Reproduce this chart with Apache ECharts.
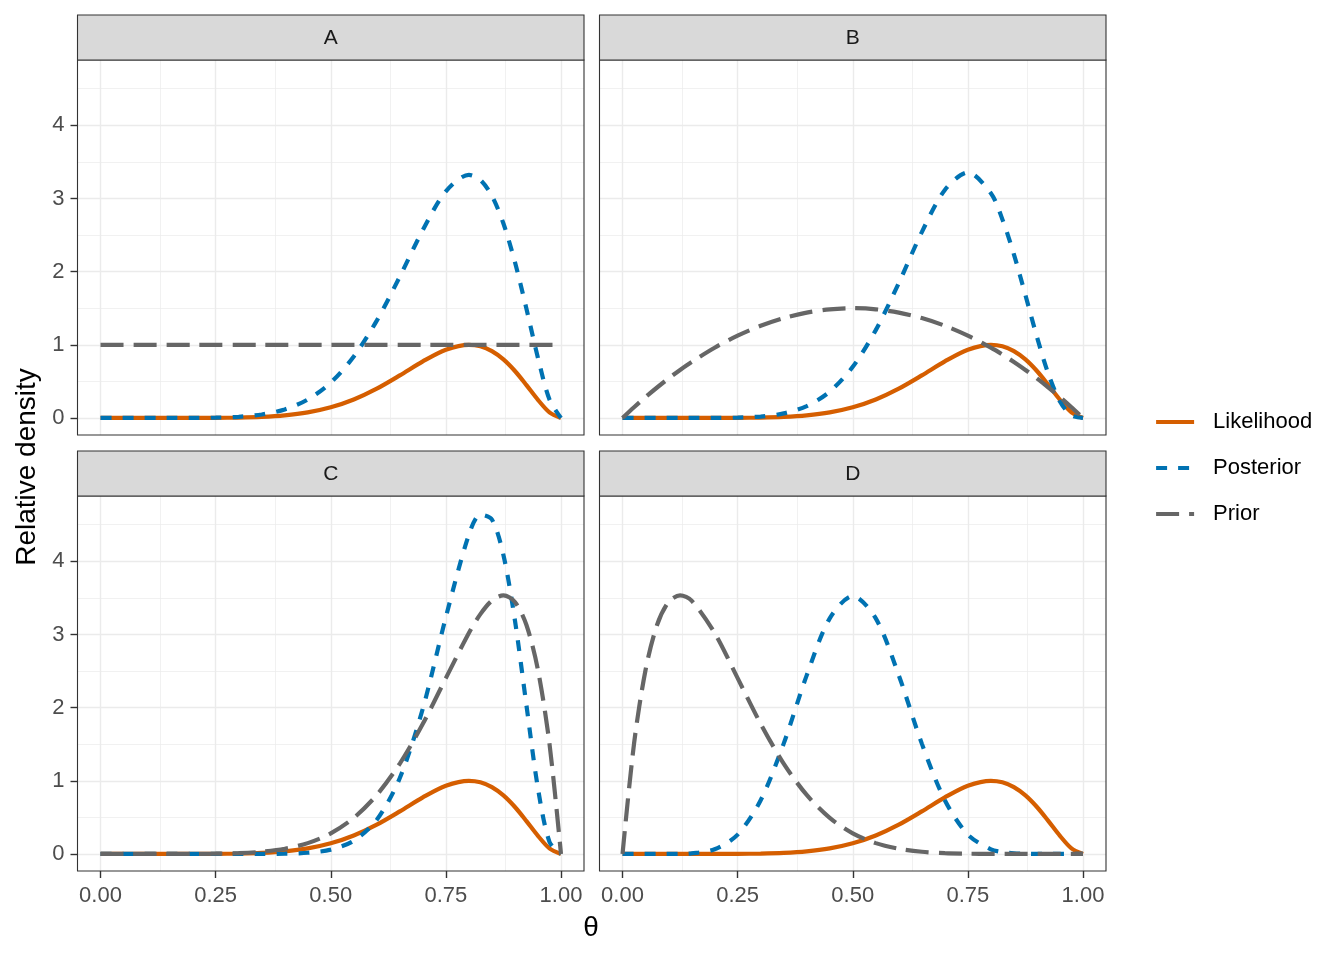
<!DOCTYPE html>
<html>
<head>
<meta charset="utf-8">
<script src="https://cdn.jsdelivr.net/npm/echarts@6/dist/echarts.min.js"></script>
<style>
  html, body { margin: 0; padding: 0; background: #fff; }
  #chart { width: 1344px; height: 960px; }
</style>
</head>
<body>
<div id="chart"></div>
<script>
// theta grid (denser near the ends where the curves bend sharply)
const theta = [0, 0.025, 0.05, 0.075, 0.1, 0.125, 0.15, 0.2, 0.25, 0.3, 0.35, 0.4, 0.45, 0.5,
  0.55, 0.6, 0.65, 0.7, 0.75, 0.8, 0.825, 0.85, 0.875, 0.9, 0.925, 0.95, 0.975, 1];

const likelihood = [0, 0, 0, 0, 0, 0, 0.00003, 0.00024, 0.00128, 0.00479, 0.01418, 0.03516, 0.0758, 0.14552,
  0.25267, 0.40045, 0.58164, 0.77313, 0.93239, 1, 0.97933, 0.9136, 0.80003, 0.64145, 0.44924, 0.24715, 0.07606, 0];

const priorA = [1, 1, 1, 1, 1, 1, 1, 1, 1, 1, 1, 1, 1, 1,
  1, 1, 1, 1, 1, 1, 1, 1, 1, 1, 1, 1, 1, 1];
const posteriorA = [0, 0, 0, 0, 0, 0, 0.0001, 0.0008, 0.0043, 0.0159, 0.0471, 0.1168, 0.2518, 0.4834,
  0.8394, 1.3303, 1.9322, 2.5683, 3.0973, 3.3219, 3.2532, 3.0349, 2.6576, 2.1309, 1.4923, 0.821, 0.2527, 0];

const priorB = [0, 0.14625, 0.285, 0.41625, 0.54, 0.65625, 0.765, 0.96, 1.125, 1.26, 1.365, 1.44, 1.485, 1.5,
  1.485, 1.44, 1.365, 1.26, 1.125, 0.96, 0.86625, 0.765, 0.65625, 0.54, 0.41625, 0.285, 0.14625, 0];
const posteriorB = [0, 0, 0, 0, 0, 0, 0.0001, 0.0008, 0.0046, 0.0193, 0.0619, 0.162, 0.3601, 0.6983,
  1.2003, 1.8446, 2.5397, 3.1162, 3.3554, 3.0709, 2.7137, 2.2357, 1.6795, 1.108, 0.5982, 0.2253, 0.0356, 0];

const priorC = [0, 0, 0, 0, 0, 0, 0.0001, 0.0007, 0.0033, 0.011, 0.0301, 0.0708, 0.148, 0.2813,
  0.4933, 0.8062, 1.2354, 1.7789, 2.4027, 3.0199, 3.2775, 3.4622, 3.5343, 3.4437, 3.1289, 2.514, 1.5077, 0];
const posteriorC = [0, 0, 0, 0, 0, 0, 0, 0, 0, 0.0001, 0.0006, 0.0036, 0.0162, 0.0591,
  0.1801, 0.4665, 1.0383, 1.9874, 3.2374, 4.364, 4.6384, 4.5709, 4.086, 3.1921, 2.0312, 0.8979, 0.1657, 0];

const priorD = [0, 1.5077, 2.514, 3.1289, 3.4437, 3.5343, 3.4622, 3.0199, 2.4027, 1.7789, 1.2354, 0.8062, 0.4933, 0.2813,
  0.148, 0.0708, 0.0301, 0.011, 0.0033, 0.0007, 0.0003, 0.0001, 0, 0, 0, 0, 0, 0];
const posteriorD = [0, 0, 0, 0, 0.0004, 0.0021, 0.0082, 0.0635, 0.2646, 0.7338, 1.5081, 2.4404, 3.2192, 3.5239,
  3.2192, 2.4404, 1.5081, 0.7338, 0.2646, 0.0635, 0.0252, 0.0082, 0.0021, 0.0004, 0, 0, 0, 0];

const panels = ['A', 'B', 'C', 'D'];
const priors = [priorA, priorB, priorC, priorD];
const posteriors = [posteriorA, posteriorB, posteriorC, posteriorD];

const xMajor = [0, 0.25, 0.5, 0.75, 1];
const xMinor = [0.125, 0.375, 0.625, 0.875];
const yMajor = [0, 1, 2, 3, 4];
const yMinor = [0.5, 1.5, 2.5, 3.5, 4.5];

const colors = { Likelihood: '#D55E00', Posterior: '#0072B2', Prior: '#666666' };
const dashes = { Likelihood: 'solid', Posterior: [11, 11], Prior: [23, 10] };
const LW = 4.2;

const chart = echarts.init(document.getElementById('chart'));

const lefts = [77.5, 599.5, 77.5, 599.5];
const tops = [60, 60, 496, 496];
const W = 506.5, H = 375, STRIP = 45;
const FONT = 'Liberation Sans, Arial, sans-serif';

const grids = [], xAxes = [], yAxes = [], series = [], graphics = [];

const pair = arr => theta.map((t, i) => [t, arr[i]]);

panels.forEach((p, i) => {
  const bottomRow = i >= 2, leftCol = i % 2 === 0;
  grids.push({ left: lefts[i], top: tops[i], width: W, height: H,
    show: true, borderColor: '#333333', borderWidth: 1.1, backgroundColor: 'transparent', z: 10 });
  xAxes.push({
    gridIndex: i, type: 'value', min: -0.05, max: 1.05,
    axisLine: { show: false, onZero: false }, splitLine: { show: false },
    axisTick: { show: bottomRow, customValues: xMajor, length: 7, lineStyle: { color: '#333333', width: 1.4 } },
    axisLabel: { show: bottomRow, customValues: xMajor, margin: 14, fontSize: 22, color: '#4d4d4d',
      fontFamily: FONT, formatter: v => v.toFixed(2) }
  });
  yAxes.push({
    gridIndex: i, type: 'value', min: -0.233, max: 4.892,
    axisLine: { show: false, onZero: false }, splitLine: { show: false },
    axisTick: { show: leftCol, customValues: yMajor, length: 7, lineStyle: { color: '#333333', width: 1.4 } },
    axisLabel: { show: leftCol, customValues: yMajor, margin: 13, fontSize: 22, color: '#4d4d4d',
      fontFamily: FONT }
  });
  // background grid lines
  const gl = [];
  xMinor.forEach(v => gl.push({ xAxis: v, lineStyle: { width: 0.7 } }));
  yMinor.forEach(v => gl.push({ yAxis: v, lineStyle: { width: 0.7 } }));
  xMajor.forEach(v => gl.push({ xAxis: v, lineStyle: { width: 1.4 } }));
  yMajor.forEach(v => gl.push({ yAxis: v, lineStyle: { width: 1.4 } }));
  series.push({
    type: 'line', xAxisIndex: i, yAxisIndex: i, data: [[0, 0]], showSymbol: false, symbol: 'none',
    lineStyle: { width: 0, opacity: 0 }, silent: true, z: 1,
    markLine: { silent: true, symbol: 'none', label: { show: false }, animation: false, z: 1,
      lineStyle: { color: '#ebebeb', type: 'solid' }, emphasis: { disabled: true }, data: gl }
  });
  [['Likelihood', likelihood], ['Posterior', posteriors[i]], ['Prior', priors[i]]].forEach(([name, arr], k) => {
    series.push({
      name, type: 'line', xAxisIndex: i, yAxisIndex: i, data: pair(arr),
      smooth: 0.3, symbol: 'none', showSymbol: false, z: 3 + k,
      lineStyle: { color: colors[name], width: LW, type: dashes[name], cap: 'butt' },
      itemStyle: { color: colors[name] }
    });
  });
  // facet strip
  graphics.push({
    type: 'rect', shape: { x: lefts[i], y: tops[i] - STRIP, width: W, height: STRIP },
    style: { fill: '#d9d9d9', stroke: '#333333', lineWidth: 1.1 }, z: 10
  });
  graphics.push({
    type: 'text', x: lefts[i] + W / 2, y: tops[i] - STRIP / 2 + 1, z: 11,
    style: { text: p, fontSize: 21, fill: '#1a1a1a', align: 'center', verticalAlign: 'middle',
      fontFamily: FONT }
  });
});

graphics.push({
  type: 'text', x: 591, y: 928, z: 11,
  style: { text: 'θ', fontSize: 28, fill: '#000', align: 'center', verticalAlign: 'middle',
    fontFamily: FONT }
});
graphics.push({
  type: 'text', x: 27, y: 467, rotation: Math.PI / 2, z: 11,
  style: { text: 'Relative density', fontSize: 28, fill: '#000', align: 'center', verticalAlign: 'middle',
    fontFamily: FONT }
});

chart.setOption({
  animation: false,
  backgroundColor: '#fff',
  grid: grids,
  xAxis: xAxes,
  yAxis: yAxes,
  legend: {
    data: ['Likelihood', 'Posterior', 'Prior'],
    orient: 'vertical', left: 1149, top: 406,
    itemWidth: 38, itemHeight: 22, itemGap: 24,
    itemStyle: { opacity: 0, borderWidth: 0 },
    lineStyle: { width: LW },
    textStyle: { fontSize: 22, color: '#000', fontFamily: FONT, padding: [0, 0, 0, 14] }
  },
  graphic: graphics,
  series
});
</script>
</body>
</html>
